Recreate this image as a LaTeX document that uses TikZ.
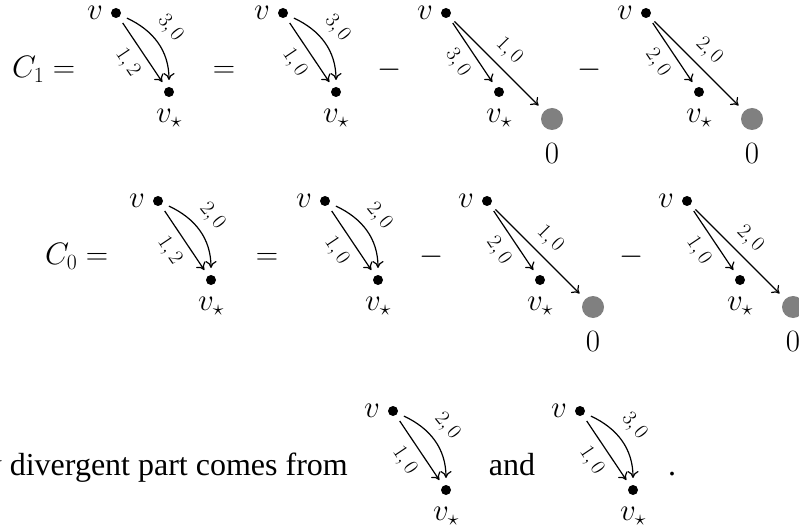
\RequirePackage{fix-cm}
\documentclass[tikz,border=0pt]{standalone}
\usepackage[no-math]{fontspec}
\newfontfamily\timesfont{Liberation Serif}
\usetikzlibrary{arrows.meta}
\tikzset{
  dot/.style={circle, fill=black, inner sep=0pt, minimum size=10pt, outer sep=7pt},
  gdot/.style={circle, fill=gray, inner sep=0pt, minimum size=22pt, outer sep=8pt},
  arr/.style={-{To[length=7pt,width=11pt]}, line width=1.2pt},
  lab/.style={font=\fontsize{21}{23}\selectfont, sloped, inner sep=2pt},
  big/.style={font=\fontsize{31}{36}\selectfont, inner sep=0pt},
  txt/.style={font=\timesfont\fontsize{32}{36}\selectfont, inner sep=0pt},
}
\newcommand{\vlabels}[3]{%
  \node[big, anchor=east] (#1vl) at (#2-13,#3) {$v$};
  \node[big, anchor=north] (#1sl) at (#2+53,#3-96) {$v_\star$};
}
\newcommand{\curvdiag}[5]{%
  \node[dot] (#1v) at (#2,#3) {};
  \node[dot] (#1s) at (#2+53,#3-79) {};
  \vlabels{#1}{#2}{#3}
  \draw[arr] (#1v) -- node[lab, below=7pt] {$#4$} (#1s);
  \draw[arr] (#1v) to[out=-25,in=90] node[lab, above=7pt, pos=0.45] {$#5$} (#1s);
}
\newcommand{\graydiag}[5]{%
  \node[dot] (#1v) at (#2,#3) {};
  \node[dot] (#1s) at (#2+53,#3-79) {};
  \node[gdot] (#1g) at (#2+106,#3-106) {};
  \node[big] (#1z) at (#2+106,#3-141) {$0$};
  \vlabels{#1}{#2}{#3}
  \draw[arr] (#1v) -- node[lab, below=7pt] {$#4$} (#1s);
  \draw[arr] (#1v) -- node[lab, above=6pt] {$#5$} (#1g);
}
\begin{document}
\begin{tikzpicture}[x=1pt,y=1pt]
\useasboundingbox (0,0) rectangle (799,-526);
% row 1
\node[big, anchor=base west] (c1) at (12,-78) {$C_1 =$};
\curvdiag{a}{116}{-13}{1,2}{3,0}
\node[big, anchor=base] (eq1) at (224,-78) {$=$};
\curvdiag{b}{283}{-13}{1,0}{3,0}
\node[big, anchor=base] (m1) at (390,-78) {$-$};
\graydiag{c}{446}{-13}{3,0}{1,0}
\node[big, anchor=base] (m2) at (590,-78) {$-$};
\graydiag{d}{646}{-13}{2,0}{2,0}
% row 2
\node[big, anchor=base west] (c0) at (45,-265) {$C_0 =$};
\curvdiag{e}{158}{-201}{1,2}{2,0}
\node[big, anchor=base] (eq2) at (267,-265) {$=$};
\curvdiag{f}{325}{-201}{1,0}{2,0}
\node[big, anchor=base] (m3) at (432,-265) {$-$};
\graydiag{g}{487}{-201}{2,0}{1,0}
\node[big, anchor=base] (m4) at (632,-265) {$-$};
\graydiag{h}{687}{-201}{1,0}{2,0}
% row 3
\node[txt, anchor=base east] (t1) at (348,-475) {y divergent part comes from};
\curvdiag{i}{393}{-411}{1,0}{2,0}
\node[txt, anchor=base] (t2) at (512,-475) {and};
\curvdiag{j}{580}{-411}{1,0}{3,0}
\node[txt, anchor=base] (t3) at (672,-475) {.};
\end{tikzpicture}
\end{document}
